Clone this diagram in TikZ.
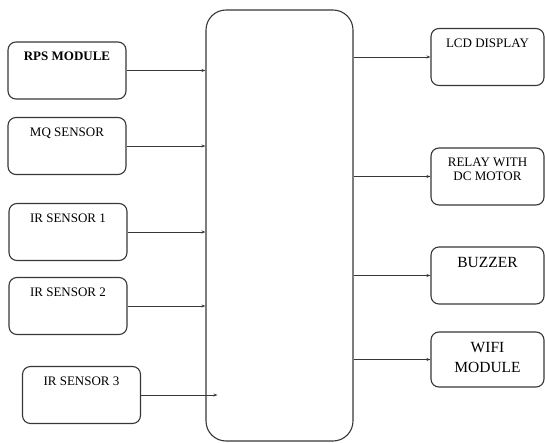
\documentclass[tikz,border=0pt]{standalone}
\usepackage{fontspec}
\setmainfont{Liberation Serif}
\usetikzlibrary{arrows.meta}
\definecolor{edge}{RGB}{55,55,55}

\begin{document}
\begin{tikzpicture}[x=1pt, y=-1pt,
    blk/.style={draw=edge, line width=1.1pt, rounded corners=8pt,
        minimum width=118pt, minimum height=57pt, inner sep=0pt},
    tag/.style={anchor=north, yshift=-7pt, align=center,
        font=\fontsize{13}{14}\selectfont},
    bigtag/.style={tag, font=\fontsize{15.5}{20}\selectfont},
    link/.style={draw=edge, line width=0.9pt,
        -{Stealth[length=4pt, width=3pt]}}]

\useasboundingbox (0,0) rectangle (545,443);

\def\lx{67} % left column
\def\rx{487.5} % right column

% --- Controller ---
\node[draw=edge, line width=1.1pt, rounded corners=20pt,
    minimum width=147pt, minimum height=431pt] (mcu) at (279.5,225.5) {};

% --- Inputs ---
\node[blk, label={[tag, font=\fontsize{13}{14}\selectfont\bfseries]north:RPS MODULE}] (rps) at (\lx,70.5) {};
\node[blk, label={[tag]north:MQ SENSOR}] (mq) at (\lx,146) {};
\node[blk, label={[tag]north:IR SENSOR 1}] (ir1) at (\lx+1,232) {};
\node[blk, label={[tag]north:IR SENSOR 2}] (ir2) at (\lx+1,306) {};
\node[blk, label={[tag]north:IR SENSOR 3}] (ir3) at (\lx+14.5,395) {};

% --- Outputs ---
\node[blk, minimum width=113pt, label={[tag]north:LCD DISPLAY}] (lcd) at (\rx,57) {};
\node[blk, minimum width=113pt, label={[tag]north:RELAY WITH\\DC MOTOR}] (relay) at (\rx,176.5) {};
\node[blk, minimum width=113pt, label={[bigtag]north:BUZZER}] (buzz) at (\rx,275.5) {};
\node[blk, minimum width=113pt, minimum height=55pt, label={[bigtag]north:WIFI\\MODULE}] (wifi) at (\rx,359.5) {};

% arrows into the controller
\foreach \n in {rps, mq, ir1, ir2}
    \draw[link] (\n.east) -- (\n.east -| mcu.west);
\coordinate (ir3end) at ([xshift=12pt]ir3.east -| mcu.west);
\draw[link] (ir3.east) -- (ir3end);

% arrows out of the controller
\foreach \n in {lcd, relay, buzz, wifi}
    \draw[link] (\n.west -| mcu.east) -- (\n.west);

\end{tikzpicture}
\end{document}
